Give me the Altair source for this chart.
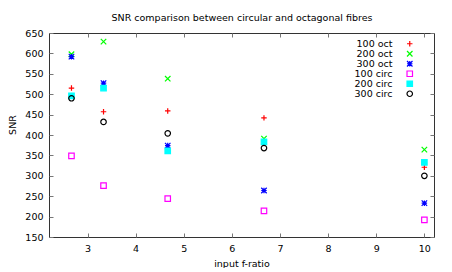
import altair as alt
import pandas as pd

f_ratio = [2.667, 3.333, 4.667, 6.667, 10.0]
series_names = ["100 oct", "200 oct", "300 oct", "100 circ", "200 circ", "300 circ"]
snr_100_oct = [515, 457, 459, 442, 321]
snr_200_oct = [598, 629, 538, 391, 364]
snr_300_oct = [592, 527, 374, 264, 233]
snr_100_circ = [349, 276, 244, 214, 192]
snr_200_circ = [496, 515, 361, 383, 333]
snr_300_circ = [490, 432, 404, 368, 300]

x_ticks = [3, 4, 5, 6, 7, 8, 9, 10]
y_ticks = [150, 200, 250, 300, 350, 400, 450, 500, 550, 600, 650]

stroke_colors = ["#ff0000", "#00ff00", "#0000ff", "#ff00ff", "#00ffff", "#000000"]
fill_colors = ["transparent", "transparent", "transparent", "transparent", "#00ffff", "transparent"]
plus = "M-1,0L1,0M0,-1L0,1"
cross = "M-1,-1L1,1M-1,1L1,-1"
shapes = [plus, cross, plus + cross, "square", "square", "circle"]

all_values = [snr_100_oct, snr_200_oct, snr_300_oct, snr_100_circ, snr_200_circ, snr_300_circ]
rows = []
for name, vals in zip(series_names, all_values):
    for f, v in zip(f_ratio, vals):
        rows.append({"f": f, "snr": v, "series": name})
df = pd.DataFrame(rows)

FONT = "DejaVu Sans"
FS = 9.5

xscale = alt.Scale(domain=[2.2, 10.2], nice=False, zero=False)
yscale = alt.Scale(domain=[150, 650], nice=False, zero=False)

legend = alt.Legend(
    title=None, orient="none", legendX=356, legendY=6, padding=0,
    labelAlign="right", labelOffset={"expr": "-22"}, labelFont=FONT, labelFontSize=FS,
    labelColor="#000000", rowPadding={"expr": "-1.8"}, symbolStrokeWidth=1.2, symbolSize=30,
)

axis_bottom = alt.Axis(
    orient="bottom", offset=-4, tickSize=4, domain=False, grid=False, values=x_ticks,
    labelPadding=6, labelFont=FONT, labelFontSize=FS, labelColor="#000000",
    tickColor="#777777", title="input f-ratio", titleFont=FONT, titleFontSize=FS,
    titleFontWeight="normal", titleColor="#000000", titleBaseline="alphabetic",
    titleY=33.5,
)
axis_left = alt.Axis(
    orient="left", offset=-4, tickSize=4, domain=False, grid=False, values=y_ticks,
    labelPadding=6, labelFont=FONT, labelFontSize=FS, labelColor="#000000",
    tickColor="#777777", title="SNR", titleFont=FONT, titleFontSize=FS,
    titleFontWeight="normal", titleColor="#000000", titleBaseline="middle",
    titleX=-41, titleY=91.5,
)
axis_top = alt.Axis(
    orient="top", offset=-4, tickSize=4, domain=False, grid=False, values=x_ticks,
    labels=False, tickColor="#777777",
    title="SNR comparison between circular and octagonal fibres", titleFont=FONT,
    titleFontSize=FS, titleFontWeight="normal", titleColor="#000000",
    titleBaseline="alphabetic", titleY=-17,
)
axis_right = alt.Axis(
    orient="right", offset=-4, tickSize=4, domain=False, grid=False, values=y_ticks,
    labels=False, tickColor="#777777", title=None,
)

points = alt.Chart(df).mark_point(size=30, strokeWidth=1.2, opacity=1).encode(
    x=alt.X("f:Q", scale=xscale, axis=axis_bottom),
    y=alt.Y("snr:Q", scale=yscale, axis=axis_left),
    stroke=alt.Stroke("series:N", scale=alt.Scale(domain=series_names, range=stroke_colors), legend=legend),
    fill=alt.Fill("series:N", scale=alt.Scale(domain=series_names, range=fill_colors), legend=legend),
    shape=alt.Shape("series:N", scale=alt.Scale(domain=series_names, range=shapes), legend=legend),
)

ticks = alt.Chart(df).mark_point(opacity=0).encode(
    x=alt.X("f:Q", scale=xscale, axis=axis_top),
    y=alt.Y("snr:Q", scale=yscale, axis=axis_right),
)

chart = alt.layer(points, ticks).resolve_axis(x="independent", y="independent").properties(
    width=385, height=204,
    autosize=alt.AutoSizeParams(type="none"),
    padding={"left": 41, "top": 25, "right": 10, "bottom": 31},
).configure_view(stroke="#333333", strokeWidth=1)

chart.save("out.html", embed_options={"renderer": "svg", "actions": False})
